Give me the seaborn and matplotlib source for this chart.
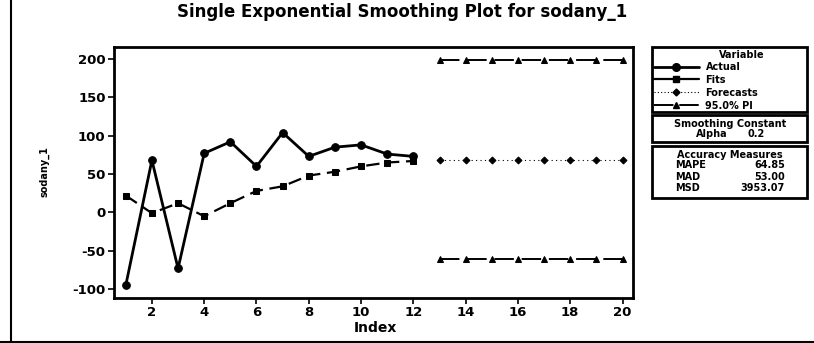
import matplotlib
matplotlib.use("Agg")
import matplotlib.pyplot as plt
import seaborn as sns
import pandas as pd
from matplotlib.lines import Line2D
from matplotlib.patches import Rectangle

# ---- data ----
index_actual = [1, 2, 3, 4, 5, 6, 7, 8, 9, 10, 11, 12]
actual = [-95, 68, -73, 77, 92, 60, 104, 73, 85, 88, 76, 73]
fits = [22, -1, 12, -5, 12, 28, 34, 48, 53, 60, 65, 67]
index_fc = [13, 14, 15, 16, 17, 18, 19, 20]
forecasts = [68.5, 68.5, 68.5, 68.5, 68.5, 68.5, 68.5, 68.5]
upper_pi = [198, 198, 198, 198, 198, 198, 198, 198]
lower_pi = [-61, -61, -61, -61, -61, -61, -61, -61]
x_ticks = [2, 4, 6, 8, 10, 12, 14, 16, 18, 20]
y_ticks = [-100, -50, 0, 50, 100, 150, 200]
title = "Single Exponential Smoothing Plot for sodany_1"
legend_labels = ["Actual", "Fits", "Forecasts", "95.0% PI"]
accuracy_names = ["MAPE", "MAD", "MSD"]
accuracy_values = ["64.85", "53.00", "3953.07"]
alpha_value = "0.2"

sns.set_theme(style="white")
plt.rcParams['font.family'] = ['DejaVu Sans']
plt.rcParams['axes.unicode_minus'] = False
plt.rcParams['text.color'] = 'black'
plt.rcParams['axes.labelcolor'] = 'black'
plt.rcParams['xtick.color'] = 'black'
plt.rcParams['ytick.color'] = 'black'

W, H = 814, 343
fig = plt.figure(figsize=(W / 100, H / 100), dpi=100)
fig.patch.set_facecolor("white")
ax = fig.add_axes([114 / W, 1 - 298 / H, (633 - 114) / W, (298 - 47) / H])

df_a = pd.DataFrame({"Index": index_actual, "Actual": actual, "Fits": fits})
df_f = pd.DataFrame({"Index": index_fc, "Forecasts": forecasts,
                     "Upper": upper_pi, "Lower": lower_pi})

sns.lineplot(data=df_a, x="Index", y="Actual", ax=ax, color="black", lw=2.0,
             marker="o", markersize=5.5, markeredgecolor="black")
sns.lineplot(data=df_a, x="Index", y="Fits", ax=ax, color="black", lw=1.6,
             marker="s", markersize=4.5, markeredgecolor="black",
             linestyle=(0, (6, 3)))
sns.lineplot(data=df_f, x="Index", y="Forecasts", ax=ax, color="black", lw=0.8,
             marker="D", markersize=3.5, markeredgecolor="black",
             linestyle=(0, (1, 3)))
sns.lineplot(data=df_f, x="Index", y="Upper", ax=ax, color="black", lw=1.4,
             marker="^", markersize=5, markeredgecolor="black",
             linestyle=(0, (10, 4)))
sns.lineplot(data=df_f, x="Index", y="Lower", ax=ax, color="black", lw=1.4,
             marker="^", markersize=5, markeredgecolor="black",
             linestyle=(0, (10, 4)))

ax.set_xlim(0.55, 20.4)
ax.set_ylim(-111.5, 215.5)
ax.set_xticks(x_ticks)
ax.set_yticks(y_ticks)
ax.tick_params(axis="both", which="both", direction="out", length=4, width=1.2,
               color="black", labelcolor="black", labelsize=9.5, pad=2,
               left=True, bottom=True)
for lab in ax.get_xticklabels() + ax.get_yticklabels():
    lab.set_fontweight("bold")
for s in ax.spines.values():
    s.set_color("black")
    s.set_linewidth(2)
ax.set_xlabel("Index", fontsize=10, fontweight="bold", labelpad=0)
ax.xaxis.set_label_coords((375 - 114) / (633 - 114), -0.09)
ax.set_ylabel("sodany_1", fontsize=7, fontweight="bold", labelpad=0)
ax.yaxis.set_label_coords((49 - 114) / (633 - 114), (298 - 172) / (298 - 47))

fig.text(402 / W, 1 - 12 / H, title, ha="center", va="center",
         fontsize=12, fontweight="bold", color="black")

# ---- side panels ----
def fx(px):
    return px / W

def fy(py):
    return 1 - py / H

for (t, b) in [(47, 112), (115, 142), (146, 198)]:
    fig.patches.append(Rectangle((fx(652), fy(b)), fx(807) - fx(652),
                                 fy(t) - fy(b), transform=fig.transFigure,
                                 fill=False, edgecolor="black", lw=2))

handles = [
    Line2D([], [], color="black", lw=2.0, marker="o", markersize=5.5),
    Line2D([], [], color="black", lw=1.6, marker="s", markersize=4.5),
    Line2D([], [], color="black", lw=0.8, marker="D", markersize=3.5,
           linestyle=(0, (1, 2))),
    Line2D([], [], color="black", lw=1.4, marker="^", markersize=5,
           linestyle=(0, (10, 3))),
]
fig.text(fx(742), fy(55), "Variable", ha="center", va="center",
         fontsize=7, fontweight="bold")
leg = fig.legend(handles, legend_labels, loc="upper left",
                 bbox_to_anchor=(fx(652), fy(60)), frameon=False,
                 prop={"size": 7, "weight": "bold"}, handlelength=4.6,
                 handletextpad=0.7, labelspacing=0.3, borderaxespad=0,
                 borderpad=0.2)
for t in leg.get_texts():
    t.set_color("black")

fig.text(fx(730), fy(124), "Smoothing Constant", ha="center", va="center",
         fontsize=7, fontweight="bold")
fig.text(fx(712), fy(134), "Alpha", ha="center", va="center",
         fontsize=7, fontweight="bold")
fig.text(fx(756), fy(134), alpha_value, ha="center", va="center",
         fontsize=7, fontweight="bold")

fig.text(fx(730), fy(155), "Accuracy Measures", ha="center", va="center",
         fontsize=7, fontweight="bold")
for i, (n, v) in enumerate(zip(accuracy_names, accuracy_values)):
    yy = fy(165 + i * 11.5)
    fig.text(fx(675), yy, n, ha="left", va="center", fontsize=7,
             fontweight="bold")
    fig.text(fx(785), yy, v, ha="right", va="center", fontsize=7,
             fontweight="bold")

# outer frame lines (left and bottom)
fig.lines.append(Line2D([fx(11), fx(11)], [0, 1], transform=fig.transFigure,
                        color="black", lw=1.5))
fig.lines.append(Line2D([0, 1], [fy(341.5), fy(341.5)],
                        transform=fig.transFigure, color="black", lw=1.5))

fig.savefig("out.png", dpi=100, facecolor="white")
